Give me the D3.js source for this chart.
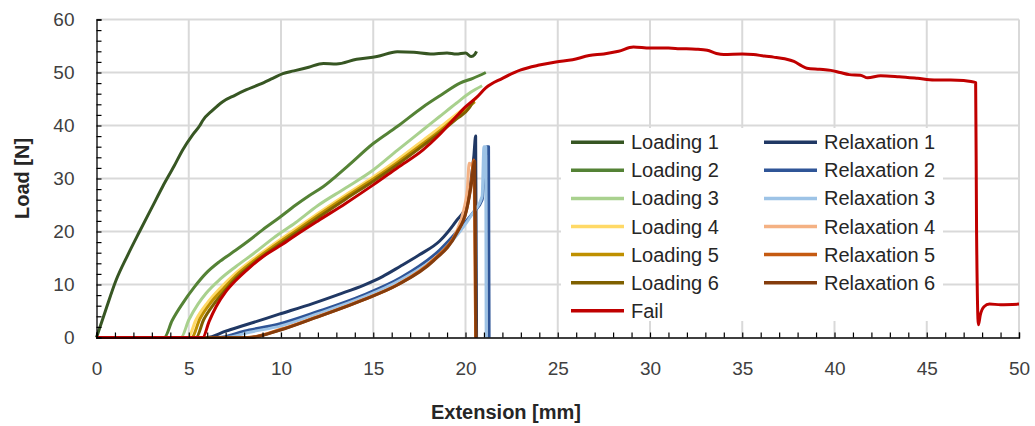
<!DOCTYPE html>
<html>
<head>
<meta charset="utf-8">
<script src="https://cdn.jsdelivr.net/npm/d3@7"></script>
<style>
  body { margin: 0; background: #fff; }
  svg { display: block; font-family: "Liberation Sans", Arial, sans-serif; }
</style>
</head>
<body>
<div id="chart-container"></div>
<script>
// [extension mm, load N]
const loading1 = [[0,0],[0.5,5.2],[1.06,10.8],[1.7,15.6],[2.32,19.9],[3.0,24.5],[3.59,28.5],[4.2,32.3],[4.67,35.4],[5.2,38.2],[5.6,40.0],[5.75,40.9],[6.3,42.9],[6.84,44.5],[7.5,45.7],[8.1,46.7],[8.8,47.7],[9.55,48.9],[10.1,49.8],[10.7,50.3],[11.5,51.0],[12.3,51.7],[13.0,51.6],[14.1,52.5],[15.2,53.0],[16.3,53.9],[17.2,53.8],[18.1,53.5],[19.0,53.7],[19.5,53.5],[20.0,53.7],[20.3,53.0],[20.5,53.4],[20.6,54.0]];
const loading2 = [[0,0],[3.67,0],[4.1,3.2],[4.67,6.45],[5.3,9.5],[5.93,12.1],[6.7,14.4],[7.56,16.5],[8.3,18.4],[9.0,20.3],[9.9,22.6],[10.8,25.0],[11.5,26.7],[12.3,28.5],[13.6,32.3],[15.0,36.6],[16.3,39.8],[17.7,43.5],[18.7,45.8],[19.7,48.0],[20.4,48.9],[21.1,50.0]];
const loading3 = [[0,0],[4.58,0],[5.0,3.3],[5.5,6.3],[5.93,8.3],[6.7,11.0],[7.56,13.4],[8.5,15.8],[9.6,18.8],[10.8,21.7],[12.0,24.9],[13.5,28.2],[15.0,31.6],[16.3,35.3],[17.7,39.2],[18.6,41.7],[19.5,44.2],[20.3,46.3],[20.9,47.5]];
const loading4 = [[0,0],[4.95,0],[5.4,3.4],[6.0,6.5],[6.7,9.3],[7.56,12.2],[8.5,14.8],[9.6,17.6],[10.8,20.5],[12.0,23.4],[13.5,26.9],[15.0,30.3],[16.3,33.5],[17.7,37.2],[18.6,39.6],[19.5,42.1],[20.2,44.0],[20.6,45.2]];
const loading5 = [[0,0],[5.15,0],[5.6,3.5],[6.2,6.6],[6.9,9.3],[7.56,11.7],[8.5,14.4],[9.6,17.2],[10.8,20.1],[12.0,23.0],[13.5,26.5],[15.0,29.9],[16.3,33.0],[17.7,36.6],[18.6,39.0],[19.5,41.6],[20.2,43.6],[20.5,44.5]];
const loading6 = [[0,0],[5.4,0],[5.8,3.3],[6.4,6.5],[7.0,9.0],[7.56,11.2],[8.5,14.0],[9.6,16.8],[10.8,19.7],[12.0,22.6],[13.5,26.1],[15.0,29.5],[16.3,32.6],[17.7,36.2],[18.6,38.6],[19.5,41.2],[20.2,43.3],[20.45,44.8]];
const relaxation1 = [[5.8,0],[5.97,0],[7.0,1.2],[8.1,2.4],[9.9,4.4],[11.75,6.45],[13.1,8.1],[14.5,9.9],[15.5,11.5],[16.45,13.4],[17.5,15.6],[18.6,18.2],[19.5,22.0],[20.1,25.3],[20.3,29.7],[20.45,34.1],[20.55,38.0],[20.6,0]];
const relaxation2 = [[5.8,0],[6.6,0],[8.0,1.2],[9.95,2.6],[12.0,4.9],[14.46,8.0],[16.5,11.3],[18.6,16.5],[19.7,20.6],[20.4,23.5],[20.9,26.0],[21.15,36.0],[21.25,36.0],[21.28,0]];
const relaxation3 = [[5.8,0],[7.0,0],[8.3,1.0],[10.0,2.2],[12.0,4.5],[14.46,7.6],[16.5,10.9],[18.6,15.8],[19.7,20.0],[20.4,23.5],[20.9,26.6],[21.0,36.0],[21.1,36.0],[21.12,0]];
const relaxation4 = [[5.8,0],[8.2,0],[10.0,1.6],[11.75,3.7],[14.46,7.2],[16.3,10.0],[18.25,14.7],[19.5,19.9],[19.9,24.0],[20.1,28.0],[20.2,32.9],[20.45,31.5],[20.55,0]];
const relaxation5 = [[5.8,0],[8.2,0],[10.0,1.5],[11.75,3.6],[14.46,7.1],[16.3,9.9],[18.25,14.6],[19.5,19.7],[20.06,24.1],[20.3,29.0],[20.45,33.5],[20.55,0]];
const relaxation6 = [[5.8,0],[8.3,0],[9.95,1.4],[11.75,3.6],[14.46,7.1],[16.3,9.9],[18.25,14.4],[19.5,19.5],[20.06,24.1],[20.3,28.5],[20.5,33.2],[20.57,0]];
const fail = [[0,0],[5.76,0],[6.1,3.0],[6.48,5.8],[7.0,8.6],[7.56,10.8],[8.3,13.2],[9.0,15.2],[9.9,17.2],[10.8,19.3],[12.0,22.0],[13.5,25.3],[15.0,28.8],[16.3,32.0],[17.7,35.4],[18.6,38.3],[19.5,41.7],[20.0,43.5],[20.6,45.3],[21.1,47.1],[22.0,48.9],[23.0,50.5],[24.0,51.4],[24.9,52.0],[25.8,52.4],[26.7,53.2],[27.5,53.5],[28.3,54.0],[29.1,54.8],[30.0,54.6],[31.0,54.6],[31.6,54.5],[32.5,54.4],[33.1,54.2],[33.6,53.6],[34.0,53.4],[35.0,53.5],[35.6,53.4],[36.2,53.1],[36.7,52.9],[37.3,52.6],[37.8,52.1],[38.2,51.3],[38.5,50.8],[39.2,50.6],[39.8,50.4],[40.3,50.0],[40.8,49.6],[41.4,49.5],[41.8,49.0],[42.5,49.4],[43.5,49.2],[44.5,48.9],[45.4,48.6],[46.3,48.6],[47.0,48.5],[47.4,48.3],[47.65,48.1],[47.7,20],[47.8,2.4],[47.9,4.2],[48.1,5.8],[48.4,6.3],[49.0,6.2],[50.0,6.3]];

const seriesNames = ["Loading 1","Loading 2","Loading 3","Loading 4","Loading 5","Loading 6",
                     "Relaxation 1","Relaxation 2","Relaxation 3","Relaxation 4","Relaxation 5","Relaxation 6","Fail"];
const seriesData = [loading1, loading2, loading3, loading4, loading5, loading6,
                    relaxation1, relaxation2, relaxation3, relaxation4, relaxation5, relaxation6, fail];
const seriesColors = ["#375623","#548235","#A9D18E","#FFD966","#BF9000","#7F6000",
                      "#203864","#2F5597","#9DC3E6","#F4B183","#C55A11","#843C0C","#C00000"];

const xMajorTicks = [0,5,10,15,20,25,30,35,40,45,50];
const yMajorTicks = [0,10,20,30,40,50,60];
const xMinorTicks = d3.range(0, 51, 1);
const yMinorTicks = d3.range(0, 61, 2);

const width = 1035, height = 426;
const margin = { top: 19.5, right: 16, bottom: 88.5, left: 96.5 };

const svg = d3.select("#chart-container").append("svg")
    .attr("width", width)
    .attr("height", height);

const x = d3.scaleLinear().domain([0, 50]).range([margin.left, width - margin.right]);
const y = d3.scaleLinear().domain([0, 60]).range([height - margin.bottom, margin.top]);

// gridlines
svg.append("g")
    .selectAll("line.vgrid")
    .data(xMajorTicks.filter(d => d > 0))
    .enter().append("line")
    .attr("x1", d => x(d)).attr("x2", d => x(d))
    .attr("y1", y(0)).attr("y2", y(60))
    .attr("stroke", "#d9d9d9").attr("stroke-width", 2);

svg.append("g")
    .selectAll("line.hgrid")
    .data(yMajorTicks.filter(d => d > 0))
    .enter().append("line")
    .attr("x1", x(0)).attr("x2", x(50))
    .attr("y1", d => y(d)).attr("y2", d => y(d))
    .attr("stroke", "#d9d9d9").attr("stroke-width", 2);

// lines
const line = d3.line()
    .x(d => x(d[0]))
    .y(d => y(d[1]))
    .curve(d3.curveMonotoneX);

svg.append("g")
    .selectAll("path")
    .data(seriesData)
    .enter().append("path")
    .attr("d", d => line(d))
    .attr("fill", "none")
    .attr("stroke", (d, i) => seriesColors[i])
    .attr("stroke-width", 3)
    .attr("stroke-linejoin", "round");

// axes: minor ticks inside, labels without ticks
const xMinor = svg.append("g")
    .attr("transform", `translate(0,${y(0)})`)
    .call(d3.axisBottom(x).tickValues(xMinorTicks).tickSize(-5).tickFormat(""));
const yMinor = svg.append("g")
    .attr("transform", `translate(${x(0)},0)`)
    .call(d3.axisLeft(y).tickValues(yMinorTicks).tickSize(-5).tickFormat(""));
[xMinor, yMinor].forEach(g => {
    g.select(".domain").attr("stroke", "#000").attr("stroke-width", 1.3);
    g.selectAll(".tick line").attr("stroke", "#000").attr("stroke-width", 1.2);
});

const xLabels = svg.append("g")
    .attr("transform", `translate(0,${y(0)})`)
    .call(d3.axisBottom(x).tickValues(xMajorTicks).tickSize(0).tickPadding(24));
const yLabels = svg.append("g")
    .attr("transform", `translate(${x(0)},0)`)
    .call(d3.axisLeft(y).tickValues(yMajorTicks).tickSize(0).tickPadding(22));
[xLabels, yLabels].forEach(g => {
    g.select(".domain").remove();
    g.selectAll("text")
        .style("font-family", "'Liberation Sans', Arial, sans-serif")
        .style("font-size", "19px")
        .attr("fill", "#404040");
});

// axis titles
svg.append("text")
    .attr("x", 506)
    .attr("y", 419)
    .attr("text-anchor", "middle")
    .style("font-size", "20px")
    .style("font-weight", "bold")
    .attr("fill", "#262626")
    .text("Extension [mm]");

svg.append("text")
    .attr("transform", `translate(29,${(y(0) + y(60)) / 2}) rotate(-90)`)
    .attr("text-anchor", "middle")
    .style("font-size", "20px")
    .style("font-weight", "bold")
    .attr("fill", "#262626")
    .text("Load [N]");

// legend
const legend = svg.append("g");
legend.append("rect")
    .attr("x", 561).attr("y", 128)
    .attr("width", 382).attr("height", 193)
    .attr("fill", "#fff");

const legendOrder = [0,1,2,3,4,5,12,6,7,8,9,10,11];
legendOrder.forEach((si, k) => {
    const col = k < 7 ? 0 : 1;
    const row = k < 7 ? k : k - 7;
    const lx = col === 0 ? 571 : 764;
    const ly = 142.3 + row * 28.07;
    legend.append("line")
        .attr("x1", lx).attr("x2", lx + 53)
        .attr("y1", ly).attr("y2", ly)
        .attr("stroke", seriesColors[si])
        .attr("stroke-width", 3.5);
    legend.append("text")
        .attr("x", lx + 60)
        .attr("y", ly)
        .attr("dy", "0.35em")
        .style("font-size", "20px")
        .attr("fill", "#262626")
        .text(seriesNames[si]);
});
</script>
</body>
</html>
